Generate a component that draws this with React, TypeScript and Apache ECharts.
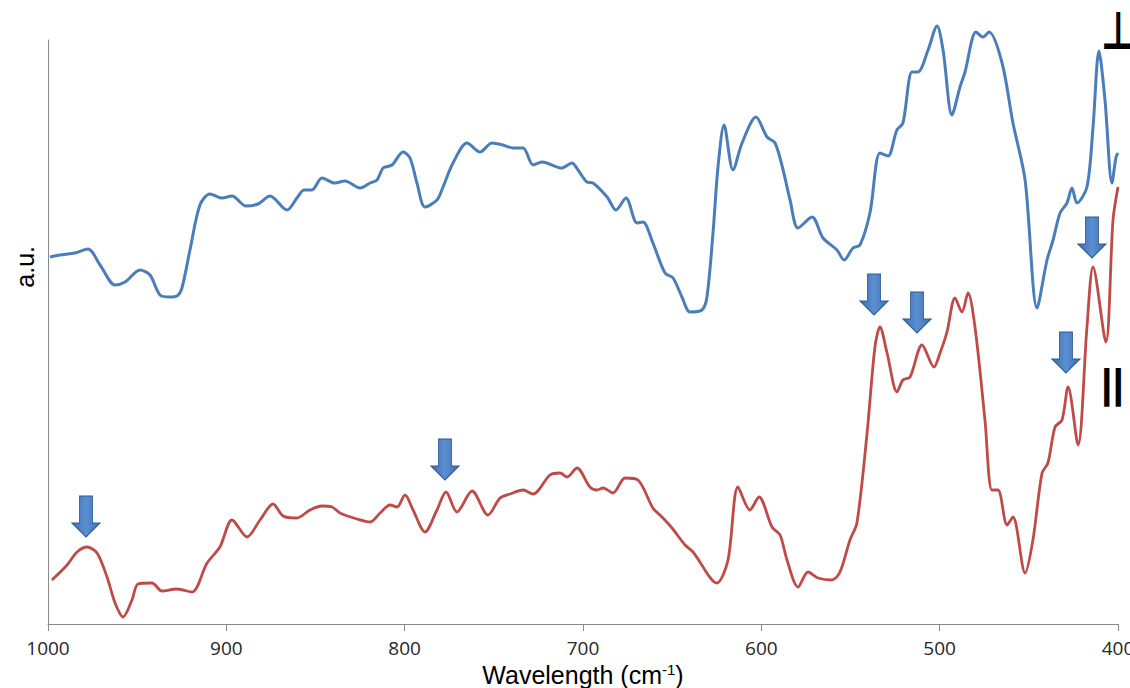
import React, { useEffect, useRef } from "react";
import * as echarts from "echarts";

// Perpendicular spectrum (blue)
const blueWave = [998.9, 993.3, 984.9, 977.6, 970.8, 962.4, 956.8, 948.4, 942.8, 937.2, 931.6, 927.7, 924.9, 920.4, 914.8, 909.2, 902.4, 896.8, 889.0, 882.2, 875.5, 866.0, 860.4, 856.4, 852.0, 846.4, 839.1, 833.5, 825.0, 819.4, 815.5, 812.1, 807.1, 800.9, 797.0, 793.1, 788.6, 781.9, 778.5, 772.9, 765.0, 757.8, 751.0, 744.9, 739.2, 733.6, 728.0, 723.0, 711.8, 706.2, 702.8, 697.8, 694.4, 686.5, 681.5, 675.9, 669.7, 666.4, 660.8, 654.0, 649.5, 644.5, 640.0, 633.3, 630.5, 627.1, 624.3, 620.9, 615.9, 610.8, 603.0, 596.8, 592.3, 587.8, 583.9, 579.4, 571.6, 565.4, 557.6, 553.6, 548.6, 544.7, 539.1, 533.5, 529.0, 524.0, 520.6, 515.5, 512.2, 506.5, 501.5, 498.1, 493.1, 488.6, 485.8, 479.6, 475.7, 472.3, 465.0, 458.9, 452.1, 445.4, 439.8, 436.4, 432.5, 428.6, 425.8, 423.0, 417.4, 414.0, 410.7, 407.3, 403.4, 401.1, 400.0];
const blueVal = [3.67, 3.69, 3.71, 3.75, 3.59, 3.39, 3.42, 3.54, 3.49, 3.29, 3.27, 3.28, 3.36, 3.74, 4.19, 4.30, 4.26, 4.28, 4.18, 4.20, 4.28, 4.14, 4.26, 4.34, 4.34, 4.46, 4.41, 4.43, 4.36, 4.41, 4.44, 4.56, 4.59, 4.72, 4.66, 4.41, 4.17, 4.24, 4.37, 4.61, 4.81, 4.72, 4.81, 4.79, 4.76, 4.76, 4.59, 4.62, 4.56, 4.61, 4.54, 4.42, 4.41, 4.27, 4.14, 4.26, 4.01, 4.02, 3.81, 3.51, 3.46, 3.27, 3.12, 3.14, 3.27, 3.91, 4.57, 4.99, 4.54, 4.81, 5.07, 4.87, 4.81, 4.54, 4.24, 3.96, 4.07, 3.86, 3.74, 3.64, 3.76, 3.79, 4.11, 4.71, 4.68, 4.94, 5.01, 5.52, 5.52, 5.74, 5.98, 5.74, 5.09, 5.37, 5.52, 5.92, 5.87, 5.92, 5.61, 5.01, 4.44, 3.16, 3.64, 3.84, 4.11, 4.21, 4.36, 4.21, 4.37, 4.97, 5.73, 5.24, 4.41, 4.67, 4.71];

// Parallel spectrum (red)
const redWave = [997.8, 989.3, 983.7, 978.1, 972.5, 966.9, 962.4, 957.9, 952.9, 949.5, 941.7, 936.1, 927.7, 919.3, 910.8, 903.6, 896.8, 888.4, 881.1, 873.8, 868.2, 860.4, 853.1, 846.4, 840.7, 836.3, 826.7, 819.4, 813.8, 808.2, 804.3, 799.8, 795.3, 788.6, 781.9, 776.8, 770.7, 762.2, 753.3, 746.5, 740.9, 733.6, 728.0, 718.5, 712.9, 708.9, 703.4, 696.1, 692.2, 688.8, 683.2, 676.4, 669.2, 660.8, 655.7, 650.1, 642.8, 638.3, 624.9, 618.7, 613.1, 606.4, 601.3, 594.0, 589.5, 585.6, 579.4, 573.8, 568.2, 560.4, 555.9, 550.3, 546.4, 540.7, 536.3, 533.5, 529.5, 523.9, 520.6, 516.6, 509.9, 503.2, 499.8, 495.9, 491.4, 487.5, 484.1, 480.2, 474.6, 470.7, 467.3, 462.2, 458.9, 452.1, 447.7, 442.6, 439.3, 435.3, 431.4, 428.0, 422.4, 417.4, 414.0, 406.8, 402.8, 400.0];
const redVal = [0.44, 0.59, 0.72, 0.77, 0.71, 0.47, 0.21, 0.07, 0.24, 0.40, 0.41, 0.33, 0.35, 0.32, 0.61, 0.77, 1.04, 0.87, 1.04, 1.20, 1.08, 1.06, 1.14, 1.18, 1.17, 1.11, 1.05, 1.02, 1.11, 1.19, 1.17, 1.29, 1.14, 0.92, 1.14, 1.32, 1.12, 1.33, 1.09, 1.26, 1.30, 1.34, 1.30, 1.49, 1.51, 1.47, 1.56, 1.37, 1.34, 1.36, 1.31, 1.46, 1.44, 1.16, 1.07, 0.96, 0.79, 0.72, 0.41, 0.64, 1.37, 1.14, 1.27, 0.97, 0.89, 0.64, 0.37, 0.52, 0.46, 0.44, 0.52, 0.84, 1.01, 1.91, 2.77, 2.97, 2.71, 2.32, 2.44, 2.47, 2.79, 2.57, 2.71, 2.92, 3.26, 3.12, 3.31, 2.97, 2.04, 1.34, 1.34, 0.99, 1.07, 0.51, 0.84, 1.51, 1.61, 1.97, 2.04, 2.37, 1.79, 2.97, 3.57, 2.82, 4.04, 4.37];

// Arrow annotations (tip positions)
const arrowWave = [978.7, 777.4, 536.8, 512.7, 429.2, 414.6];
const arrowVal = [0.87, 1.44, 3.09, 2.91, 2.51, 3.66];

const xTicks = { min: 400, max: 1000, interval: 100 };
const xTitle = "Wavelength (cm";
const yTitle = "a.u.";
const perpLabel = "⊥";
const paraLabel = "||";

const arrowPath = "path://M7.5,0 L20.5,0 L20.5,27 L28,27 L14,41 L0,27 L7.5,27 Z";

export default function App() {
  const ref = useRef<HTMLDivElement>(null);
  useEffect(() => {
    document.body.style.margin = "0";
    document.body.style.overflow = "hidden";
    if (!ref.current) return;
    const chart = echarts.init(ref.current, null, { renderer: "svg" });
    const blueData = blueWave.map((w, i) => [w, blueVal[i]]);
    const redData = redWave.map((w, i) => [w, redVal[i]]);
    const arrowData = arrowWave.map((w, i) => [w, arrowVal[i]]);
    chart.setOption({
      animation: false,
      backgroundColor: "#ffffff",
      grid: { left: 48, right: 12, top: 40, bottom: 64, containLabel: false, outerBoundsMode: "none" },
      xAxis: {
        type: "value",
        inverse: true,
        min: xTicks.min,
        max: xTicks.max,
        interval: xTicks.interval,
        axisLine: { show: true, lineStyle: { color: "#8a8a8a", width: 1 } },
        axisTick: { show: true, length: 7, inside: false, lineStyle: { color: "#8a8a8a" } },
        splitLine: { show: false },
        axisLabel: {
          show: true,
          margin: 14,
          color: "#262626",
          fontFamily: "Open Sans",
          fontSize: 19,
          showMaxLabel: true,
          showMinLabel: true,
          formatter: (v: number) => String(v),
        },
        name: "{t|" + xTitle + "}{s|-1}{t|)}",
        nameLocation: "middle",
        nameGap: 38,
        nameTextStyle: {
          rich: {
            t: { fontFamily: "Liberation Sans", fontSize: 25, color: "#000" },
            s: { fontFamily: "Liberation Sans", fontSize: 15, color: "#000", verticalAlign: "top", padding: [0, 0, 10, 0] },
          },
        },
      },
      yAxis: {
        type: "value",
        min: 0,
        max: 5.84,
        axisLine: { show: true, lineStyle: { color: "#8a8a8a", width: 1 } },
        axisTick: { show: false },
        axisLabel: { show: false },
        splitLine: { show: false },
      },
      series: [
        {
          type: "line",
          data: blueData,
          smooth: 0.3,
          showSymbol: false,
          clip: false,
          lineStyle: { color: "#4a7ebb", width: 3 },
          z: 2,
        },
        {
          type: "line",
          data: redData,
          smooth: 0.3,
          showSymbol: false,
          clip: false,
          lineStyle: { color: "#be4b48", width: 2.8 },
          z: 2,
        },
        {
          type: "scatter",
          data: arrowData,
          symbol: arrowPath,
          symbolSize: [28, 41],
          symbolOffset: [0, -20.5],
          symbolKeepAspect: false,
          clip: false,
          itemStyle: {
            color: {
              type: "linear", x: 0, y: 0, x2: 1, y2: 0,
              colorStops: [
                { offset: 0, color: "#3d6fae" },
                { offset: 0.5, color: "#5b8fd2" },
                { offset: 1, color: "#3d6fae" },
              ],
            },
            borderColor: "#2f5a8f",
            borderWidth: 1,
            opacity: 1,
          },
          z: 3,
        },
      ],
      graphic: [
        {
          type: "text",
          left: 12,
          top: 246,
          rotation: Math.PI / 2,
          style: { text: yTitle, font: "25px 'Liberation Sans'", fill: "#000" },
        },
        {
          type: "text",
          x: 1101,
          y: 4,
          scaleY: 1.38,
          style: { text: perpLabel, font: "bold 38px 'DejaVu Sans'", fill: "#000" },
        },
        {
          type: "text",
          x: 1101,
          y: 363,
          style: { text: paraLabel, font: "bold 41px 'Liberation Sans'", fill: "#000" },
        },
      ],
    });
    return () => chart.dispose();
  }, []);
  return <div ref={ref} style={{ width: 1130, height: 688 }} />;
}
